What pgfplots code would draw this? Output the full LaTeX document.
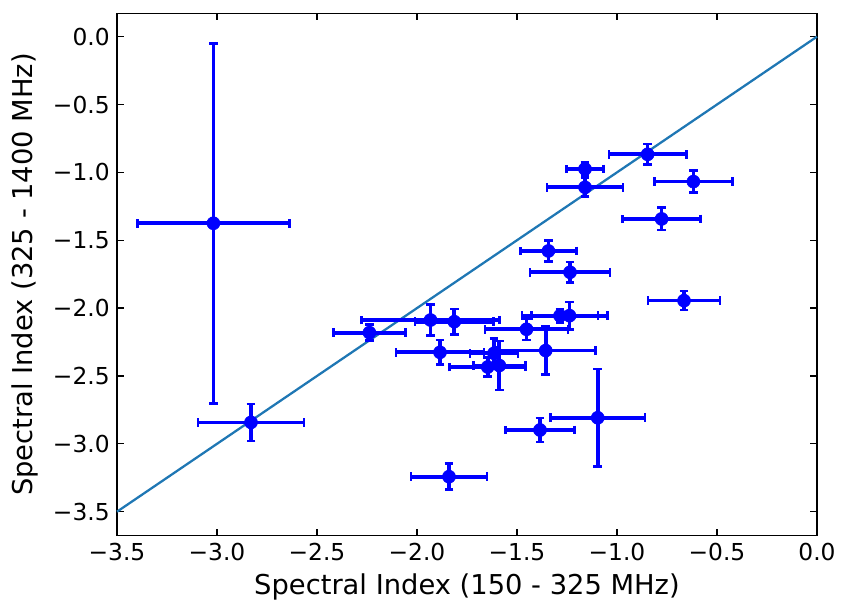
\documentclass[border=0pt]{standalone}
\usepackage{fontspec}
\setmainfont{DejaVu Sans}
\usepackage{pgfplots}
\usepackage{pgfplotstable}
\pgfplotsset{compat=1.18}
\definecolor{mplblue}{HTML}{1F77B4}
\pgfplotstableread{
x y ex ey
-3.018 -1.375 0.380 1.326
-2.830 -2.842 0.265 0.136
-2.238 -2.181 0.179 0.060
-1.9325 -2.088 0.344 0.116
-1.8135 -2.100 0.196 0.093
-1.885 -2.326 0.220 0.090
-1.4525 -2.156 0.207 0.080
-1.285 -2.056 0.190 0.050
-1.2375 -2.056 0.190 0.100
-1.3565 -2.313 0.250 0.175
-1.615 -2.333 0.120 0.110
-1.5885 -2.423 0.130 0.180
-1.6465 -2.434 0.190 0.070
-1.0965 -2.808 0.236 0.360
-1.385 -2.898 0.174 0.089
-1.840 -3.242 0.190 0.095
-0.847 -0.867 0.193 0.076
-1.160 -0.975 0.094 0.050
-1.160 -1.110 0.190 0.068
-0.618 -1.068 0.195 0.080
-0.777 -1.343 0.196 0.082
-1.343 -1.579 0.140 0.076
-1.235 -1.736 0.200 0.076
-0.665 -1.945 0.180 0.070
}\datatable
\pgfplotstableread{
x y
-3.5 -3.5
0 0
}\linetable
\begin{document}
\begin{tikzpicture}
\begin{axis}[
  scale only axis,
  width=525pt, height=391.8pt,
  xmin=-3.5, xmax=0, ymin=-3.677, ymax=0.172,
  axis line style={line width=1pt, black},
  tick align=inside,
  xtick pos=both, ytick pos=both,
  ticklabel pos=left,
  major tick length=5pt,
  every tick/.style={black, line width=1pt},
  xtick={-3.5,-3,-2.5,-2,-1.5,-1,-0.5,0},
  xticklabels={−3.5,−3.0,−2.5,−2.0,−1.5,−1.0,−0.5,0.0},
  ytick={-3.5,-3,-2.5,-2,-1.5,-1,-0.5,0},
  yticklabels={−3.5,−3.0,−2.5,−2.0,−1.5,−1.0,−0.5,0.0},
  tick label style={font=\fontsize{17.5}{21}\selectfont},
  xticklabel style={yshift=-2pt},
  yticklabel style={xshift=-2pt},
  label style={font=\fontsize{20.5}{24}\selectfont},
  xlabel={Spectral Index (150 - 325 MHz)},
  ylabel={Spectral Index (325 - 1400 MHz)},
  xlabel style={yshift=-3pt},
  ylabel style={yshift=4pt},
  clip=false,
]
\addplot[mplblue, line width=1.7pt] table[x=x,y=y] {\linetable};
\addplot[blue, only marks, mark=*, mark size=4.9pt,
  mark options={fill=blue, draw=blue},
  error bars/.cd,
    x dir=both, x explicit,
    y dir=both, y explicit,
    error bar style={line width=2.8pt, blue},
    error mark options={rotate=90, line width=2pt, mark size=3.2pt, blue},
] table[x=x, y=y, x error=ex, y error=ey] {\datatable};
\coordinate (bl) at (rel axis cs:-0.16714,-0.13074);
\coordinate (tr) at (rel axis cs:1.03429,1.02546);
\end{axis}
\pgfresetboundingbox
\path[use as bounding box] (bl) rectangle (tr);
\end{tikzpicture}
\end{document}
